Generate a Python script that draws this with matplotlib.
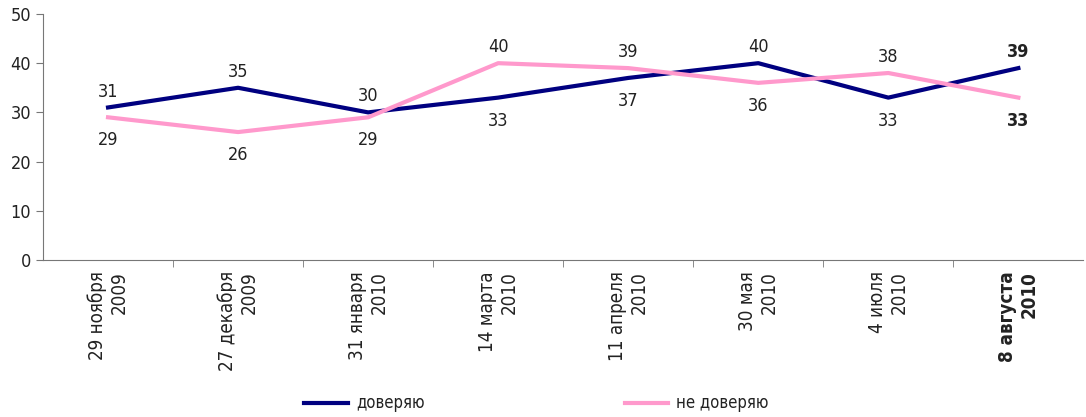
import numpy as np
import matplotlib
matplotlib.use("Agg")
from matplotlib import pyplot as plt

plt.rcParams['font.family'] = ['DejaVu Sans']
plt.rcParams['font.stretch'] = 'condensed'

dates = ['29 ноября\n2009', '27 декабря\n2009', '31 января\n2010', '14 марта\n2010',
         '11 апреля\n2010', '30 мая\n2010', '4 июля\n2010', '8 августа\n2010']
trust = [31, 35, 30, 33, 37, 40, 33, 39]
distrust = [29, 26, 29, 40, 39, 36, 38, 33]

navy = '#000080'
pink = '#ff99cc'
txt = '#222222'

fig = plt.figure(figsize=(10.86, 4.17), dpi=100)
ax = fig.add_axes([0.0396, 0.3765, 0.958, 0.59])
x = np.arange(len(dates))
ax.plot(x, trust, color=navy, lw=3, label='доверяю')
ax.plot(x, distrust, color=pink, lw=3, label='не доверяю')

for i in x:
    last = i == len(x) - 1
    fw = 'bold' if last else 'normal'
    t, d = trust[i], distrust[i]
    if t >= d:
        top, bot = t, d
    else:
        top, bot = d, t
    ax.annotate(str(top), (i, top), xytext=(0, 5), textcoords='offset points',
                ha='center', va='bottom', fontsize=13, color=txt, fontweight=fw)
    ax.annotate(str(bot), (i, bot), xytext=(0, -10), textcoords='offset points',
                ha='center', va='top', fontsize=13, color=txt, fontweight=fw)

ax.set_xlim(-0.5, len(dates) - 0.5)
ax.set_ylim(0, 50)
ax.set_yticks([0, 10, 20, 30, 40, 50])
ax.tick_params(axis='y', labelsize=13, colors='#777777', labelcolor=txt, length=5)
ax.set_xticks(x)
ax.set_xticklabels(dates, rotation=90, fontsize=13.5, color=txt, multialignment='right')
ax.tick_params(axis='x', length=0, pad=8)
ax.set_xticks(x[:-1] + 0.5, minor=True)
ax.tick_params(axis='x', which='minor', length=5, color='#777777')
ax.get_xticklabels()[-1].set_fontweight('bold')
for s in ['top', 'right']:
    ax.spines[s].set_visible(False)
for s in ['left', 'bottom']:
    ax.spines[s].set_color('#777777')

fig.legend(loc='lower center', bbox_to_anchor=(0.494, -0.025), ncol=2, frameon=False,
           fontsize=12, handlelength=2.6, handletextpad=0.5, columnspacing=12,
           labelcolor=txt)

plt.savefig('out.png', dpi=100)
